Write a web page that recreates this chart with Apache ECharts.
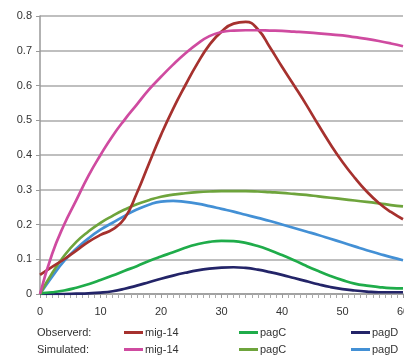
<!DOCTYPE html>
<html><head><meta charset="utf-8">
<script src="https://cdn.jsdelivr.net/npm/echarts@6/dist/echarts.min.js"></script>
<style>html,body{margin:0;padding:0;background:#fff;overflow:hidden}#c{width:404px;height:356px}</style>
</head><body><div id="c"></div>
<script>
var xValues = [0,2,4,6,8,10,12,14,16,18,20,22,24,26,28,30,32,34,36,38,40,42,44,46,48,50,52,54,56,58,60];
var mig14Observed = [0.055,0.078,0.1,0.125,0.15,0.17,0.186,0.218,0.29,0.375,0.458,0.533,0.6,0.663,0.717,0.755,0.778,0.783,0.762,0.71,0.654,0.6,0.545,0.487,0.431,0.38,0.335,0.295,0.262,0.236,0.215];
var mig14Simulated = [0,0.115,0.2,0.27,0.34,0.4,0.455,0.502,0.545,0.588,0.625,0.66,0.692,0.72,0.742,0.754,0.758,0.759,0.759,0.758,0.757,0.755,0.753,0.75,0.747,0.744,0.739,0.734,0.728,0.721,0.713];
var pagCObserved = [0.002,0.005,0.01,0.018,0.028,0.04,0.053,0.067,0.08,0.095,0.108,0.12,0.133,0.143,0.15,0.153,0.152,0.147,0.138,0.126,0.112,0.097,0.081,0.066,0.052,0.04,0.03,0.024,0.02,0.017,0.016];
var pagCSimulated = [0,0.06,0.11,0.15,0.18,0.205,0.225,0.243,0.258,0.27,0.28,0.286,0.29,0.293,0.295,0.296,0.296,0.296,0.295,0.293,0.291,0.288,0.285,0.281,0.277,0.273,0.269,0.265,0.261,0.256,0.252];
var pagDObserved = [0,0,0,0.001,0.002,0.004,0.008,0.015,0.024,0.034,0.044,0.053,0.061,0.068,0.073,0.076,0.077,0.075,0.07,0.063,0.055,0.046,0.037,0.028,0.02,0.014,0.01,0.007,0.005,0.005,0.005];
var pagDSimulated = [0,0.05,0.095,0.13,0.16,0.185,0.205,0.225,0.243,0.257,0.266,0.268,0.265,0.26,0.253,0.245,0.237,0.228,0.219,0.21,0.2,0.19,0.18,0.17,0.159,0.148,0.137,0.126,0.116,0.106,0.097];
var rowLabels = ['Observerd:', 'Simulated:'];

function pairs(ys){ return xValues.map(function(x,i){ return [x, ys[i]]; }); }

var defs = [
  {id:'obs-mig', label:'mig-14', data:mig14Observed, color:'#a6312e', row:0, left:124},
  {id:'obs-pagC', label:'pagC', data:pagCObserved, color:'#1fac4a', row:0, left:239},
  {id:'obs-pagD', label:'pagD', data:pagDObserved, color:'#232468', row:0, left:351},
  {id:'sim-mig', label:'mig-14', data:mig14Simulated, color:'#cf4ba0', row:1, left:124},
  {id:'sim-pagC', label:'pagC', data:pagCSimulated, color:'#6ea43c', row:1, left:239},
  {id:'sim-pagD', label:'pagD', data:pagDSimulated, color:'#4390d5', row:1, left:351}
];
var labelMap = {};
defs.forEach(function(d){ labelMap[d.id] = d.label; });

var drawOrder = ['sim-pagD','obs-pagD','obs-pagC','sim-pagC','obs-mig','sim-mig'];
var series = drawOrder.map(function(id){
  var d = defs.filter(function(e){return e.id===id;})[0];
  return {name:d.id, type:'line', data:pairs(d.data), smooth:0.5, symbol:'none',
    lineStyle:{width:2.7, color:d.color}, itemStyle:{color:d.color}};
});

var legends = defs.map(function(d){
  return {data:[d.id], left:d.left, top:(d.row===0?327:344), padding:0, icon:'rect',
    itemWidth:19, itemHeight:3, itemGap:2, selectedMode:false,
    formatter:function(n){return labelMap[n];},
    textStyle:{fontFamily:'Liberation Sans, Arial, sans-serif', fontSize:11, color:'#333', padding:[0,0,0,-3]}};
});

var chart = echarts.init(document.getElementById('c'), null, {renderer:'canvas'});
chart.setOption({
  animation:false,
  backgroundColor:'#fff',
  grid:{left:40, right:1, top:16, bottom:62, containLabel:false, outerBoundsMode:'none'},
  xAxis:{type:'value', min:0, max:60, interval:10,
    axisLine:{show:true, lineStyle:{color:'#999', width:1.5}},
    axisTick:{show:true, length:4, lineStyle:{color:'#999'}},
    minorTick:{show:true, splitNumber:10, length:4, lineStyle:{color:'#aaa'}},
    splitLine:{show:false},
    axisLabel:{fontFamily:'Liberation Sans, Arial, sans-serif', fontSize:11, color:'#333', margin:12, hideOverlap:false}},
  yAxis:{type:'value', min:0, max:0.8, interval:0.1,
    axisLine:{show:true, lineStyle:{color:'#999', width:1.5}},
    axisTick:{show:true, length:4, lineStyle:{color:'#999'}},
    splitLine:{show:true, lineStyle:{color:'#aaa', width:1.5}},
    axisLabel:{fontFamily:'Liberation Sans, Arial, sans-serif', fontSize:11, color:'#333', margin:8,
      formatter:function(v){return v===0?'0':v.toFixed(1);}}},
  legend:legends,
  graphic:rowLabels.map(function(t,i){
    return {type:'text', left:37, top:(i===0?327:344),
      style:{text:t, font:'11px Liberation Sans, Arial, sans-serif', fill:'#333'}};
  }),
  series:series
});
</script></body></html>
